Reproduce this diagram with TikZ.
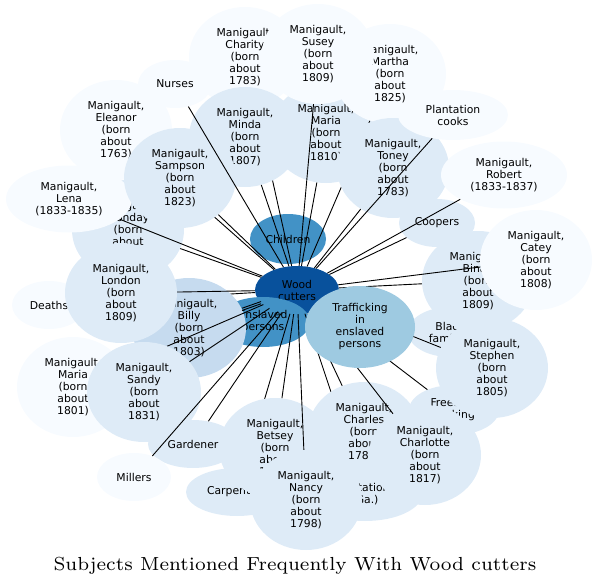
\documentclass[tikz,border=0pt]{standalone}
\usepackage{fontspec}
\newfontfamily\nodefont{DejaVu Sans}
\newfontfamily\titlefont{lmroman7-regular.otf}
\usetikzlibrary{shapes.geometric}
\definecolor{cA}{HTML}{F7FBFF}
\definecolor{cB}{HTML}{DEEBF7}
\definecolor{cC}{HTML}{C6DBEF}
\definecolor{cD}{HTML}{9ECAE1}
\definecolor{cF}{HTML}{4292C6}
\definecolor{cH}{HTML}{08519C}
\begin{document}
\begin{tikzpicture}[x=1pt,y=1pt,
  nd/.style={ellipse, inner sep=0pt, draw=none, align=center,
    font=\nodefont\fontsize{10.8}{12}\selectfont, text=black},
  big/.style={nd, minimum width=112pt, minimum height=100pt},
  small/.style={nd, minimum width=74pt, minimum height=48pt},
  ed/.style={line width=0.9pt, black}]
\useasboundingbox (0,0) rectangle (597,-586);

\node[nd, fill=cH, minimum width=84pt, minimum height=48pt] (wc) at (297,-290) {Wood\\cutters};
\node[nd, fill=cF, minimum width=76pt, minimum height=50pt] (children) at (288,-239) {Children};
\node[nd, fill=cF, minimum width=94pt, minimum height=50pt] (ensl) at (263,-322) {Enslaved\\persons};

\node[big, fill=cA] (charity) at (245,-57) {Manigault,\\Charity\\(born\\about\\1783)};
\draw[ed] (wc) -- (charity);
\node[big, fill=cB] (maria10) at (326,-133) {Manigault,\\Maria\\(born\\about\\1810)};
\draw[ed] (wc) -- (maria10);
\node[big, fill=cB] (minda) at (245,-137) {Manigault,\\Minda\\(born\\about\\1807)};
\draw[ed] (wc) -- (minda);
\node[big, fill=cA] (martha) at (390,-74) {Manigault,\\Martha\\(born\\about\\1825)};
\draw[ed] (wc) -- (martha);
\node[big, fill=cA] (susey) at (318,-54) {Manigault,\\Susey\\(born\\about\\1809)};
\draw[ed] (wc) -- (susey);
\node[big, fill=cB] (toney) at (393,-168) {Manigault,\\Toney\\(born\\about\\1783)};
\draw[ed] (wc) -- (toney);
\node[nd, fill=cA, minimum width=110pt, minimum height=50pt] (pcooks) at (453,-115) {Plantation\\cooks};
\draw[ed] (wc) -- (pcooks);
\node[nd, fill=cB, minimum width=76pt, minimum height=48pt] (coopers) at (437,-223) {Coopers};
\draw[ed] (wc) -- (coopers);
\node[nd, fill=cA, minimum width=126pt, minimum height=67pt] (robert) at (504,-175) {Manigault,\\Robert\\(1833-1837)};
\draw[ed] (wc) -- (robert);

\node[big, fill=cA] (eleanor) at (116,-130) {Manigault,\\Eleanor\\(born\\about\\1763)};
\draw[ed] (wc) -- (eleanor);
\node[big, fill=cB] (monday) at (128,-230) {Manigault,\\Monday\\(born\\about\\1800)};
\draw[ed] (wc) -- (monday);
\node[nd, fill=cA, minimum width=126pt, minimum height=67pt] (lena) at (69,-199) {Manigault,\\Lena\\(1833-1835)};
\draw[ed] (wc) -- (lena);
\node[big, fill=cB] (sampson) at (180,-178) {Manigault,\\Sampson\\(born\\about\\1823)};
\draw[ed] (wc) -- (sampson);
\node[small, fill=cA] (nurses) at (175,-84) {Nurses};
\draw[ed] (wc) -- (nurses);
\node[small, fill=cA] (deaths) at (49,-305) {Deaths};
\draw[ed] (wc) -- (deaths);
\node[big, fill=cC, minimum width=114pt] (billy) at (189,-328) {Manigault,\\Billy\\(born\\about\\1803)};
\draw[ed, transform canvas={yshift=1.1pt}] (wc) -- (billy);
\draw[ed, transform canvas={yshift=-1.1pt}] (wc) -- (billy);
\node[big, fill=cB] (london) at (121,-293) {Manigault,\\London\\(born\\about\\1809)};
\draw[ed] (wc) -- (london);
\node[big, fill=cA] (maria01) at (73,-387) {Manigault,\\Maria\\(born\\about\\1801)};
\draw[ed] (wc) -- (maria01);
\node[big, fill=cB, minimum width=114pt] (sandy) at (144,-392) {Manigault,\\Sandy\\(born\\about\\1831)};
\draw[ed] (wc) -- (sandy);
\node[nd, fill=cB, minimum width=90pt, minimum height=48pt] (gardener) at (193,-444) {Gardener};
\draw[ed] (wc) -- (gardener);
\node[small, fill=cA] (millers) at (134,-477) {Millers};
\draw[ed] (wc) -- (millers);
\node[nd, fill=cB, minimum width=102pt, minimum height=48pt] (carpenters) at (237,-492) {Carpenters};
\draw[ed] (wc) -- (carpenters);
\node[big, fill=cB] (betsey) at (275,-448) {Manigault,\\Betsey\\(born\\about\\1790)};
\draw[ed] (wc) -- (betsey);
\node[nd, fill=cB, minimum width=114pt, minimum height=54pt] (plant) at (365,-494) {Plantations\\(Ga.)};
\draw[ed] (wc) -- (plant);
\node[big, fill=cB] (nancy) at (306,-500) {Manigault,\\Nancy\\(born\\about\\1798)};
\draw[ed] (wc) -- (nancy);
\node[big, fill=cB] (charles) at (364,-432) {Manigault,\\Charles\\(born\\about\\1780)};
\draw[ed] (wc) -- (charles);
\node[nd, fill=cB, minimum width=90pt, minimum height=50pt] (freedom) at (454,-410) {Freedom\\seeking};
\draw[ed] (wc) -- (freedom);
\node[big, fill=cB] (charlotte) at (425,-455) {Manigault,\\Charlotte\\(born\\about\\1817)};
\draw[ed] (wc) -- (charlotte);
\node[nd, fill=cB, minimum width=84pt, minimum height=50pt] (blackfam) at (450,-332) {Black\\families};
\draw[ed] (wc) -- (blackfam);
\node[big, fill=cB] (stephen) at (492,-368) {Manigault,\\Stephen\\(born\\about\\1805)};
\draw[ed] (wc) -- (stephen);
\node[big, fill=cB] (binah) at (478,-281) {Manigault,\\Binah\\(born\\about\\1809)};
\draw[ed] (wc) -- (binah);
\node[big, fill=cA] (catey) at (536,-260) {Manigault,\\Catey\\(born\\about\\1808)};
\draw[ed] (wc) -- (catey);
\node[nd, fill=cD, minimum width=110pt, minimum height=82pt] (traff) at (360,-327) {Trafficking\\in\\enslaved\\persons};

\node (title) at (295,-566) {\titlefont\fontsize{18.9}{22}\selectfont Subjects Mentioned Frequently With Wood cutters};
\end{tikzpicture}
\end{document}
